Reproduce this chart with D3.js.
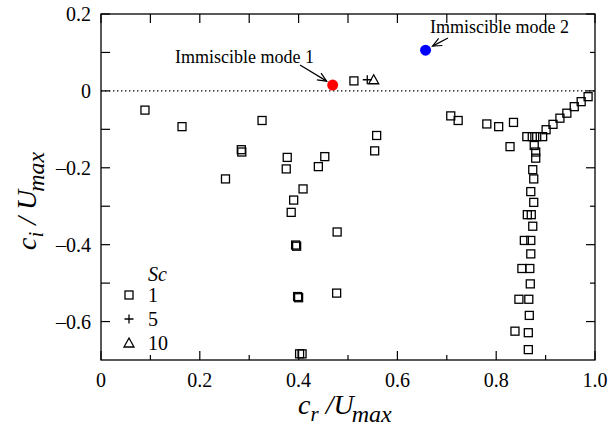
<!DOCTYPE html>
<html>
<head>
<meta charset="utf-8">
<script src="https://cdn.jsdelivr.net/npm/d3@7"></script>
<style>
  html, body { margin: 0; padding: 0; background: #fff; }
</style>
</head>
<body>
<div id="chart"></div>
<script>
// Sc = 1 (open squares)
const sc1X = [0.089, 0.164, 0.326, 0.284, 0.285, 0.252, 0.377, 0.375, 0.453, 0.440,
  0.409, 0.390, 0.385, 0.478, 0.394, 0.396, 0.398, 0.400, 0.477, 0.402,
  0.407, 0.512, 0.708, 0.723, 0.781, 0.805, 0.835, 0.828, 0.558, 0.554,
  0.986, 0.972, 0.958, 0.943, 0.929, 0.915, 0.901, 0.862, 0.873, 0.882,
  0.894, 0.877, 0.880, 0.880, 0.874, 0.876, 0.870, 0.876, 0.863, 0.871,
  0.874, 0.857, 0.870, 0.870, 0.852, 0.868, 0.869, 0.846, 0.866, 0.867,
  0.838, 0.865, 0.865];
const sc1Y = [-0.050, -0.093, -0.077, -0.153, -0.159, -0.229, -0.173, -0.203, -0.171, -0.197,
  -0.255, -0.284, -0.316, -0.367, -0.401, -0.404, -0.535, -0.538, -0.526, -0.684,
  -0.684, 0.026, -0.065, -0.077, -0.086, -0.093, -0.082, -0.145, -0.116, -0.156,
  -0.015, -0.028, -0.041, -0.058, -0.071, -0.087, -0.101, -0.119, -0.119, -0.119,
  -0.119, -0.142, -0.159, -0.175, -0.205, -0.229, -0.262, -0.290, -0.322, -0.322,
  -0.352, -0.389, -0.389, -0.424, -0.462, -0.462, -0.502, -0.542, -0.542, -0.584,
  -0.625, -0.629, -0.673];
// Sc = 5 (plus) and Sc = 10 (triangle)
const sc5X = [0.539], sc5Y = [0.029];
const sc10X = [0.552], sc10Y = [0.029];
// immiscible modes
const mode1 = { x: 0.469, y: 0.015, label: "Immiscible mode 1" };
const mode2 = { x: 0.657, y: 0.106, label: "Immiscible mode 2" };

const xTicks = [0, 0.2, 0.4, 0.6, 0.8, 1.0];
const xTickLabels = ["0", "0.2", "0.4", "0.6", "0.8", "1.0"];
const yTicks = [0.2, 0, -0.2, -0.4, -0.6];
const yTickLabels = ["0.2", "0", "\u20130.2", "\u20130.4", "\u20130.6"];
const minorX = [0.1, 0.3, 0.5, 0.7, 0.9];
const minorY = [0.1, -0.1, -0.3, -0.5];
const legendItems = [{ sym: "square", label: "1" }, { sym: "plus", label: "5" }, { sym: "triangle", label: "10" }];

const W = 608, H = 432;
const L = 101, R = 595, T = 14, B = 360;

const svg = d3.select("#chart").append("svg").attr("width", W).attr("height", H)
  .style("display", "block")
  .attr("font-family", "'Liberation Serif', Tinos, 'Times New Roman', 'DejaVu Serif', serif");

const x = d3.scaleLinear().domain([0, 1]).range([L, R]);
const y = d3.scaleLinear().domain([-0.7, 0.2]).range([B, T]);

// zero line
svg.append("line")
  .attr("x1", L).attr("x2", R).attr("y1", y(0)).attr("y2", y(0))
  .attr("stroke", "#000").attr("stroke-width", 1.3).attr("stroke-dasharray", "1.4,2.6");

// frame
svg.append("rect").attr("x", L).attr("y", T).attr("width", R - L).attr("height", B - T)
  .attr("fill", "none").attr("stroke", "#000").attr("stroke-width", 1.3);

// ticks (inward)
const tk = svg.append("g").attr("stroke", "#000").attr("stroke-width", 1.2);
xTicks.concat(minorX).forEach(v => {
  const major = xTicks.includes(v);
  tk.append("line").attr("x1", x(v)).attr("x2", x(v)).attr("y1", B).attr("y2", B - (major ? 9 : 5));
  tk.append("line").attr("x1", x(v)).attr("x2", x(v)).attr("y1", T).attr("y2", T + 9);
});
yTicks.concat(minorY).forEach(v => {
  const major = yTicks.includes(v);
  tk.append("line").attr("y1", y(v)).attr("y2", y(v)).attr("x1", L).attr("x2", L + 9);
  tk.append("line").attr("y1", y(v)).attr("y2", y(v)).attr("x1", R).attr("x2", R - (major ? 9 : 5));
});

// tick labels
svg.append("g").selectAll("text").data(xTicks).join("text")
  .attr("x", d => x(d)).attr("y", 387)
  .attr("text-anchor", "middle").attr("font-size", 20)
  .text((d, i) => xTickLabels[i]);
svg.append("g").selectAll("text").data(yTicks).join("text")
  .attr("x", 91).attr("y", d => y(d) + 7)
  .attr("text-anchor", "end").attr("font-size", 20)
  .text((d, i) => yTickLabels[i]);

// axis titles
const xt = svg.append("text").attr("x", 298).attr("y", 414).attr("font-size", 28).attr("font-style", "italic");
xt.append("tspan").text("c");
xt.append("tspan").attr("font-size", 21).attr("dy", 7).text("r");
xt.append("tspan").attr("dy", -7).text(" /U");
xt.append("tspan").attr("font-size", 24).attr("dy", 8).attr("dx", -2).text("max");

const yt = svg.append("text").attr("transform", "translate(36,250) rotate(-90)")
  .attr("font-size", 28).attr("font-style", "italic");
yt.append("tspan").text("c");
yt.append("tspan").attr("font-size", 21).attr("dy", 7).text("i");
yt.append("tspan").attr("dy", -7).text(" / U");
yt.append("tspan").attr("font-size", 24).attr("dy", 8).attr("dx", -2).text("max");

// markers
const sq = 8;
svg.append("g").selectAll("rect").data(sc1X.map((v, i) => [v, sc1Y[i]])).join("rect")
  .attr("x", d => x(d[0]) - sq / 2).attr("y", d => y(d[1]) - sq / 2)
  .attr("width", sq).attr("height", sq)
  .attr("fill", "none").attr("stroke", "#000").attr("stroke-width", 1.3);

svg.append("g").selectAll("path").data(sc5X.map((v, i) => [v, sc5Y[i]])).join("path")
  .attr("transform", d => `translate(${x(d[0])},${y(d[1])})`)
  .attr("d", "M-4.5,0H4.5M0,-4.5V4.5")
  .attr("stroke", "#000").attr("stroke-width", 1.3).attr("fill", "none");

svg.append("g").selectAll("path").data(sc10X.map((v, i) => [v, sc10Y[i]])).join("path")
  .attr("transform", d => `translate(${x(d[0])},${y(d[1])})`)
  .attr("d", "M0,-5L5,4H-5Z")
  .attr("stroke", "#000").attr("stroke-width", 1.3).attr("fill", "none");

svg.append("circle").attr("cx", x(mode1.x)).attr("cy", y(mode1.y)).attr("r", 5.5).attr("fill", "#f00");
svg.append("circle").attr("cx", x(mode2.x)).attr("cy", y(mode2.y)).attr("r", 5.5).attr("fill", "#00f");

// annotations
svg.append("defs").append("marker").attr("id", "arr")
  .attr("viewBox", "-10 -6 12 12").attr("markerWidth", 12).attr("markerHeight", 12)
  .attr("markerUnits", "userSpaceOnUse").attr("orient", "auto").attr("refX", 0).attr("refY", 0)
  .append("path").attr("d", "M-9,-4L0,0L-9,4").attr("fill", "none").attr("stroke", "#000").attr("stroke-width", 1.2);

svg.append("text").attr("x", 175).attr("y", 63).attr("font-size", 18).text(mode1.label);
svg.append("line").attr("x1", 300).attr("y1", 65).attr("x2", x(mode1.x) - 6).attr("y2", y(mode1.y) - 4)
  .attr("stroke", "#000").attr("stroke-width", 1.2).attr("marker-end", "url(#arr)");

svg.append("text").attr("x", 430).attr("y", 33).attr("font-size", 18).text(mode2.label);
svg.append("line").attr("x1", 448).attr("y1", 38).attr("x2", x(mode2.x) + 7).attr("y2", y(mode2.y) - 4)
  .attr("stroke", "#000").attr("stroke-width", 1.2).attr("marker-end", "url(#arr)");

// legend
const lg = svg.append("g");
lg.append("text").attr("x", 148).attr("y", 281).attr("font-size", 20).attr("font-style", "italic").text("Sc");
legendItems.forEach((it, i) => {
  const cy = 295 + i * 24, cx = 129;
  if (it.sym === "square") {
    lg.append("rect").attr("x", cx - sq / 2).attr("y", cy - sq / 2).attr("width", sq).attr("height", sq)
      .attr("fill", "none").attr("stroke", "#000").attr("stroke-width", 1.3);
  } else if (it.sym === "plus") {
    lg.append("path").attr("transform", `translate(${cx},${cy})`).attr("d", "M-4.5,0H4.5M0,-4.5V4.5")
      .attr("stroke", "#000").attr("stroke-width", 1.3);
  } else {
    lg.append("path").attr("transform", `translate(${cx},${cy})`).attr("d", "M0,-5L5,4H-5Z")
      .attr("fill", "none").attr("stroke", "#000").attr("stroke-width", 1.3);
  }
  lg.append("text").attr("x", 148).attr("y", cy + 7).attr("font-size", 20).text(it.label);
});
</script>
</body>
</html>
